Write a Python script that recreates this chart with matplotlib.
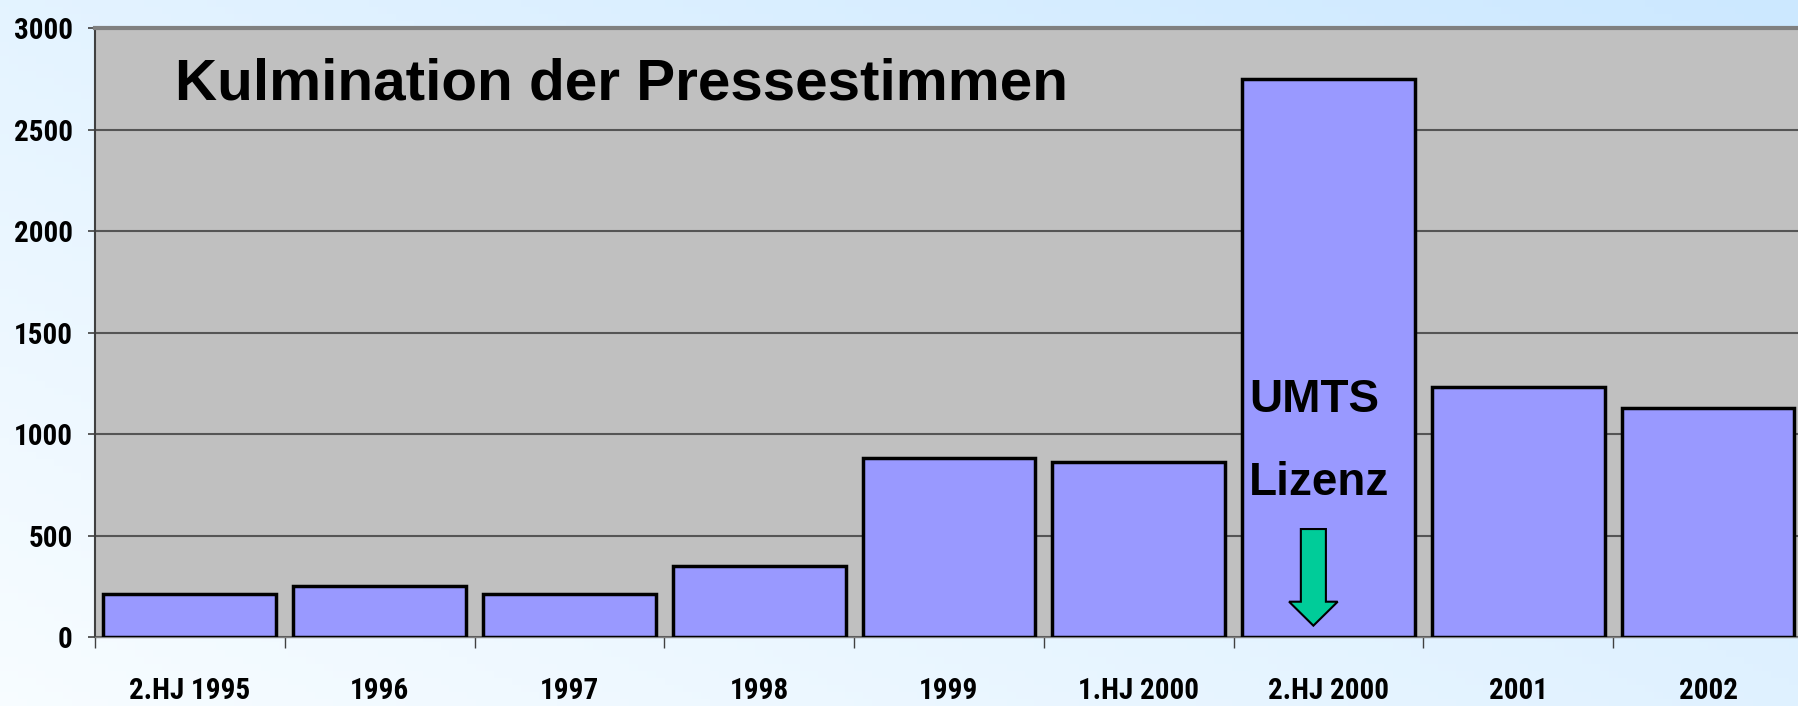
import os
import numpy as np
import matplotlib
matplotlib.use("Agg")
import matplotlib.pyplot as plt
from matplotlib import font_manager as fm
from matplotlib.patches import FancyArrow

categories = ["2.HJ 1995", "1996", "1997", "1998", "1999",
              "1.HJ 2000", "2.HJ 2000", "2001", "2002"]
values = [210, 250, 210, 350, 880, 860, 2750, 1230, 1130]
y_ticks = [0, 500, 1000, 1500, 2000, 2500, 3000]


def narrow_bold_font(size):
    # look for the narrowest bold face that is installed
    prefs = ["liberationsansnarrow-bold.", "notosans-extracondensedbold.",
             "robotocondensed-bold.", "notosans-condensedbold.",
             "opensans_condensed-bold.", "opensanscondensed-bold.",
             "dejavusanscondensed-bold."]
    files = {os.path.basename(f.fname).lower(): f.fname for f in fm.fontManager.ttflist}
    for p in prefs:
        for name, path in files.items():
            if name.startswith(p):
                return fm.FontProperties(fname=path, size=size)
    return fm.FontProperties(family="DejaVu Sans", stretch="condensed",
                             weight="bold", size=size)


fig = plt.figure(figsize=(17.98, 7.06), dpi=100)

# background gradient: white bottom-left -> light blue top-right
bg = fig.add_axes([0, 0, 1, 1], zorder=-10)
gx, gy = np.meshgrid(np.linspace(0, 1, 200), np.linspace(0, 1, 100))
g = np.clip(0.55 * gx + 0.45 * gy, 0, 1)
c0 = np.array([0.97, 0.99, 1.0])
c1 = np.array([0.80, 0.91, 1.0])
img = c0[None, None, :] * (1 - g[..., None]) + c1[None, None, :] * g[..., None]
bg.imshow(img, origin="lower", aspect="auto", extent=[0, 1, 0, 1])
bg.axis("off")

ax = fig.add_axes([0.0528, 0.0977, 0.9500, 0.8626])
ax.set_facecolor("#C0C0C0")
x = np.arange(len(categories))
ax.bar(x, values, width=0.91, color="#9999FF", edgecolor="black",
       linewidth=2.5, zorder=3)

ax.set_xlim(-0.5, len(categories) - 0.5)
ax.set_ylim(0, 3000)
ax.set_yticks(y_ticks)
ax.yaxis.grid(True, color="#555555", linewidth=1.5, zorder=1)
ax.set_axisbelow(True)

tick_fp = narrow_bold_font(21)
ax.set_yticklabels([str(t) for t in y_ticks])
ax.set_xticks(x)
ax.set_xticklabels(categories)
for lab in ax.get_xticklabels() + ax.get_yticklabels():
    lab.set_fontproperties(tick_fp)
ax.set_xticks(np.arange(len(categories) + 1) - 0.5, minor=True)
ax.tick_params(axis="x", which="major", length=0, pad=29)
ax.tick_params(axis="x", which="minor", length=8, width=1, color="#404040")
ax.tick_params(axis="y", length=5, width=1.2, color="#404040", pad=11)

ax.spines["top"].set_color("#808080")
ax.spines["top"].set_linewidth(3)
ax.spines["left"].set_color("#404040")
ax.spines["left"].set_linewidth(1.5)
ax.spines["bottom"].set_color("#808080")
ax.spines["bottom"].set_linewidth(1)
ax.spines["right"].set_visible(False)

ax.text(-0.08, 2720, "Kulmination der Pressestimmen", fontsize=42,
        fontweight="bold", family="Liberation Sans", va="center", zorder=5)
ax.text(5.58, 1170, "UMTS", fontsize=33, fontweight="bold",
        family="Liberation Sans", va="center", zorder=5)
ax.text(5.58, 760, "Lizenz", fontsize=33, fontweight="bold",
        family="Liberation Sans", va="center", zorder=5)

arrow = FancyArrow(5.92, 532, 0, -476, width=0.132, head_width=0.256,
                   head_length=118, length_includes_head=True,
                   facecolor="#00CC99", edgecolor="black", linewidth=1.5,
                   zorder=6)
ax.add_patch(arrow)

fig.savefig("out.png", dpi=100)
